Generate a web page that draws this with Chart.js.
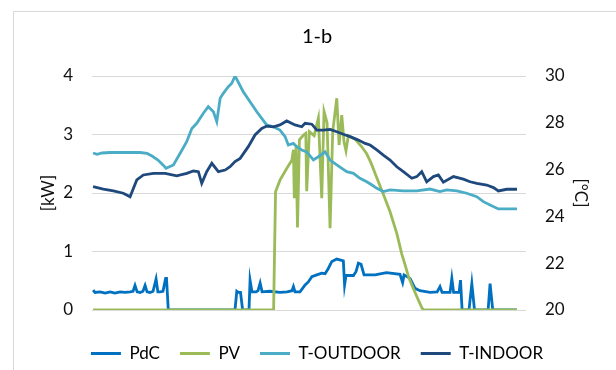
<!DOCTYPE html>
<html><head><meta charset="utf-8">
<script src="https://cdn.jsdelivr.net/npm/chart.js@4.4.1/dist/chart.umd.min.js"></script>
<style>
html,body{margin:0;padding:0;background:#fff;overflow:hidden;width:616px;height:370px;}
#frame{position:absolute;left:13px;top:11px;width:700px;height:500px;border-left:1px solid #d9d9d9;border-top:1px solid #d9d9d9;}
#c{position:absolute;left:0;top:0;}
</style></head><body>
<div id="frame"></div>
<canvas id="c" width="616" height="370"></canvas>
<script>
// time of day in hours
const pdcHours = [0,0.11,0.40,0.68,0.96,1.24,1.53,1.81,2.09,2.26,2.37,2.49,2.66,2.82,2.94,3.05,3.22,3.39,3.56,3.66,3.79,3.95,4.10,4.15,4.25,8.02,8.12,8.22,8.33,8.45,8.81,8.87,8.98,9.21,9.32,9.44,9.55,10.0,10.56,10.96,11.24,11.32,11.41,11.69,11.98,12.16,12.36,12.64,12.92,13.11,13.29,13.49,13.77,14.14,14.21,14.29,14.71,14.86,14.99,15.14,15.31,15.93,16.58,17.34,17.49,17.57,17.91,18.19,18.47,19.04,19.44,19.60,19.72,20.17,20.27,20.37,20.68,20.76,20.85,21.24,21.40,21.55,22.32,22.43,22.58,23.95];
const pdcKW = [0.34,0.30,0.31,0.29,0.31,0.29,0.31,0.30,0.31,0.32,0.42,0.31,0.30,0.32,0.42,0.31,0.30,0.32,0.53,0.31,0.31,0.32,0.54,0.54,0,0,0.32,0.30,0.30,0,0,0.51,0.31,0.31,0.33,0.46,0.31,0.32,0.30,0.31,0.33,0.40,0.31,0.31,0.43,0.48,0.57,0.60,0.63,0.62,0.71,0.83,0.87,0.84,0.43,0.59,0.59,0.66,0.80,0.78,0.60,0.60,0.64,0.61,0.47,0.60,0.54,0.37,0.33,0.30,0.31,0.40,0.30,0.30,0.54,0.30,0.30,0.51,0,0,0.45,0,0,0.45,0,0];

const pvHours = [0,10.20,10.31,10.56,10.94,11.23,11.32,11.37,11.47,11.55,11.66,11.89,12.02,12.07,12.22,12.49,12.73,12.92,13.05,13.22,13.39,13.54,13.77,13.90,14.05,14.18,14.29,14.42,14.80,15.18,15.46,15.71,16.03,16.40,16.78,17.16,17.44,17.63,17.82,18.01,18.29,18.57,18.66,23.95];
const pvKW = [0,0,2.02,2.22,2.42,2.56,2.74,1.91,2.80,1.41,2.91,2.99,3.02,2.03,3.05,2.98,3.28,1.91,3.39,3.20,1.40,3.05,3.62,2.82,3.33,2.87,2.72,2.98,2.92,2.79,2.67,2.51,2.26,1.98,1.68,1.31,0.96,0.77,0.57,0.43,0.23,0.04,0,0];

const outHours = [0,0.23,0.51,0.96,1.53,2.09,2.66,3.05,3.33,3.67,3.95,4.12,4.54,4.92,5.29,5.58,5.86,6.23,6.51,6.80,6.99,7.18,7.36,7.64,7.84,8.02,8.14,8.49,8.87,9.25,9.53,9.81,10.19,10.56,10.85,11.03,11.32,11.51,11.79,12.07,12.45,12.73,13.11,13.39,13.77,14.33,14.71,15.08,15.46,15.76,16.03,16.40,16.78,17.53,18.29,19.04,19.60,19.98,20.55,21.11,21.68,22.05,22.43,22.90,23.28,23.95];
const outC = [26.71,26.65,26.71,26.73,26.74,26.73,26.73,26.69,26.58,26.41,26.20,26.06,26.20,26.70,27.19,27.76,27.98,28.41,28.69,28.47,28.05,29.05,29.26,29.54,29.69,30.0,29.83,29.32,28.90,28.47,28.19,27.91,27.83,27.69,27.41,27.05,27.12,26.98,26.84,26.76,26.41,26.55,26.76,26.41,26.20,25.91,25.84,25.63,25.48,25.34,25.20,25.06,25.13,25.09,25.09,25.17,25.06,25.13,25.09,24.99,24.84,24.63,24.49,24.32,24.32,24.32];

const inHours = [0,0.58,1.15,1.71,2.09,2.47,2.84,3.41,4.07,4.73,5.29,5.67,5.95,6.14,6.42,6.71,7.08,7.46,7.74,8.02,8.31,8.77,9.15,9.53,9.81,10.19,10.56,10.94,11.41,11.79,11.98,12.36,12.64,13.01,13.39,13.77,14.14,14.52,14.99,15.37,15.65,16.03,16.40,16.78,17.16,17.53,18.01,18.29,18.57,18.85,19.23,19.51,19.79,20.36,20.92,21.30,21.68,22.24,22.62,22.90,23.37,23.95];
const inC = [25.27,25.17,25.09,24.99,24.84,25.56,25.77,25.84,25.84,25.73,25.84,25.94,25.91,25.41,25.91,26.27,25.91,25.98,26.12,26.34,26.48,26.98,27.48,27.76,27.86,27.83,27.91,28.08,27.91,27.83,27.98,27.94,27.69,27.69,27.72,27.62,27.51,27.41,27.26,27.12,27.05,26.84,26.62,26.41,26.12,25.91,25.63,25.70,25.91,25.48,25.70,25.77,25.46,25.70,25.59,25.48,25.41,25.34,25.23,25.09,25.16,25.16];

const seriesNames = ['PdC','PV','T-OUTDOOR','T-INDOOR'];
const seriesColors = ['#0070C0','#9BBB59','#4BACC6','#1F497D'];
const kwTicks = [0,1,2,3,4];
const cTicks = [20,22,24,26,28,30];

const FONT = 'Lato, "Open Sans", sans-serif';
const pts = (xs, ys) => xs.map((h, i) => ({x: h, y: ys[i]}));

const sets = [
  {data: pts(pdcHours, pdcKW), yAxisID: 'y', order: 4},
  {data: pts(pvHours, pvKW), yAxisID: 'y', order: 3},
  {data: pts(outHours, outC), yAxisID: 'y2', order: 2},
  {data: pts(inHours, inC), yAxisID: 'y2', order: 1}
].map((d, i) => Object.assign(d, {
  label: seriesNames[i], borderColor: seriesColors[i], backgroundColor: seriesColors[i],
  borderWidth: 2.8, pointRadius: 0, tension: 0, fill: false
}));

new Chart(document.getElementById('c'), {
  type: 'line',
  data: {datasets: sets},
  options: {
    responsive: false, animation: false, devicePixelRatio: 1,
    layout: {padding: {left: 18, right: 0, top: 0, bottom: -2}},
    plugins: {
      title: {display: true, text: '1-b', color: '#000', font: {family: FONT, size: 20, weight: 'normal'}, padding: {top: 25, bottom: 27}},
      legend: {
        position: 'bottom',
        labels: {
          boxWidth: 30, boxHeight: 3, padding: 20, color: '#000',
          font: {family: FONT, size: 17},
          generateLabels: (chart) => Chart.defaults.plugins.legend.labels.generateLabels(chart).map(l => Object.assign(l, {lineWidth: 0})),
          sort: (a, b) => a.datasetIndex - b.datasetIndex
        }
      },
      tooltip: {enabled: false}
    },
    scales: {
      x: {type: 'linear', min: -0.06, max: 24.46, grid: {display: false}, border: {display: false}, ticks: {display: false},
          afterFit: s => { s.height = 15; }},
      y: {position: 'left', min: kwTicks[0], max: kwTicks[kwTicks.length - 1],
          afterBuildTicks: s => { s.ticks = kwTicks.map(v => ({value: v})); },
          ticks: {padding: 19, color: '#111', font: {family: FONT, size: 17}},
          grid: {color: '#d9d9d9', lineWidth: 1, drawTicks: false}, border: {display: false},
          title: {display: true, text: '[kW]', color: '#111', font: {family: FONT, size: 17}, padding: {top: 20, bottom: 0}},
          afterFit: s => { s.width = 74; }},
      y2: {position: 'right', min: cTicks[0], max: cTicks[cTicks.length - 1],
          afterBuildTicks: s => { s.ticks = cTicks.map(v => ({value: v})); },
          ticks: {padding: 19, color: '#111', font: {family: FONT, size: 17}},
          grid: {display: false, drawTicks: false}, border: {display: false},
          title: {display: true, text: '[°C]', color: '#111', font: {family: FONT, size: 17}, padding: {top: 25, bottom: 0}},
          afterFit: s => { s.width = 90; }}
    }
  }
});
</script>
</body></html>
